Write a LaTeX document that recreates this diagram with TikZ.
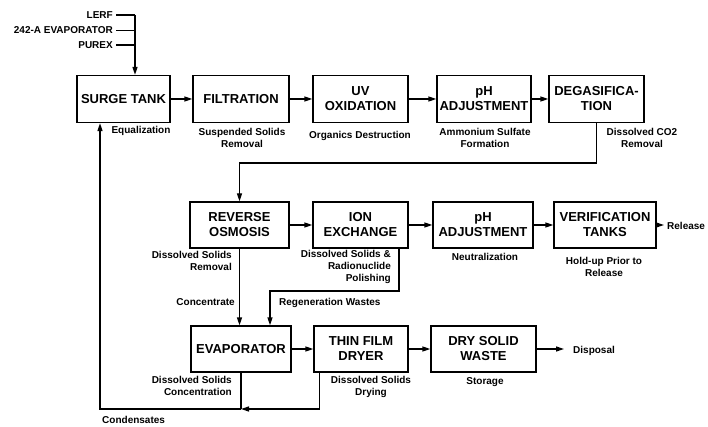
\documentclass[tikz,border=0pt]{standalone}
\usepackage{fontspec}
\setmainfont{Liberation Sans}
\usetikzlibrary{arrows.meta}
\begin{document}
\begin{tikzpicture}[x=1pt,y=-1pt,
 box/.style={draw,line width=1.3pt,align=center,font=\fontsize{13}{15}\selectfont\bfseries,inner sep=1pt},
 rowa/.style={minimum height=47pt},
 rowb/.style={minimum height=46pt},
 lbl/.style={font=\fontsize{10}{12}\selectfont\bfseries,inner sep=0pt,align=center},
 flow/.style={line width=1.3pt},
 arr/.style={flow,-{Triangle[length=8pt,width=5pt]}}]
\useasboundingbox[fill=white] (0,0) rectangle (708,427);

% row 1
\node[box,rowa,minimum width=93pt] (surge) at (123.5,99) {SURGE TANK};
\node[box,rowa,minimum width=96pt] (filt) at (241,99) {FILTRATION};
\node[box,rowa,minimum width=95pt] (uv) at (360.5,99) {UV\\OXIDATION};
\node[box,rowa,minimum width=94pt] (pha) at (484,99) {pH\\ADJUSTMENT};
\node[box,rowa,minimum width=95pt] (degas) at (596.5,99) {DEGASIFICA-\\TION};
% row 2
\node[box,rowb,minimum width=99pt] (ro) at (239.5,225) {REVERSE\\OSMOSIS};
\node[box,rowb,minimum width=95pt] (ix) at (360.5,225) {ION\\EXCHANGE};
\node[box,rowb,minimum width=100pt] (phb) at (483,225) {pH\\ADJUSTMENT};
\node[box,rowb,minimum width=102pt] (ver) at (605,225) {VERIFICATION\\TANKS};
% row 3
\node[box,rowb,minimum width=100pt] (evap) at (241,349) {EVAPORATOR};
\node[box,rowb,minimum width=94pt] (tfd) at (361,349) {THIN FILM\\DRYER};
\node[box,rowb,minimum width=105pt] (dsw) at (483.5,349) {DRY SOLID\\WASTE};

% inputs
\node[lbl,anchor=east] (lerf) at (113,15) {LERF};
\node[lbl,anchor=east] (evin) at (113,30.5) {242-A EVAPORATOR};
\node[lbl,anchor=east] (purex) at (113,45) {PUREX};
\coordinate (topj) at (135,15);
\draw[flow] ([xshift=3pt]lerf.east) -- (topj);
\draw[flow] ([xshift=3pt]evin.east) -- (evin.east -| topj);
\draw[flow] ([xshift=3pt]purex.east) -- (purex.east -| topj);
\draw[arr] (topj) -- (topj |- surge.north);

% row 1 flow
\draw[arr] (surge) -- (filt);
\draw[arr] (filt) -- (uv);
\draw[arr] (uv) -- (pha);
\draw[arr] (pha) -- (degas);
\draw[arr] (degas.south) -- ++(0,40) -| (ro.north);

% row 2 flow
\draw[arr] (ro) -- (ix);
\draw[arr] (ix) -- (phb);
\draw[arr] (phb) -- (ver);
\coordinate (relend) at (664,225);
\draw[arr] (ver) -- (relend);
\node[lbl,anchor=west] (rel) at (667,225.5) {Release};

\draw[arr] (ro.south) -- (ro.south |- evap.north);
\coordinate (regj) at (399,291);
\draw[arr] (ix.south -| regj) -- (regj) -| ([xshift=29pt]evap.north);

% row 3 flow
\draw[arr] (evap) -- (tfd);
\draw[arr] (tfd) -- (dsw);
\coordinate (dispend) at (564,349);
\draw[arr] (dsw) -- (dispend);
\node[lbl,anchor=west] (disp) at (573,350.5) {Disposal};

% condensates return
\coordinate (condj) at (241,409);
\coordinate (condl) at (100,409);
\draw[flow] (evap.south) -- (condj);
\draw[arr] ([xshift=6pt]tfd.south west) |- (condj);
\draw[arr] (condj) -- (condl) -- (condl |- surge.south);

% labels
\node[lbl] (l1) at (141,131) {Equalization};
\node[lbl] (l2) at (242,137.5) {Suspended Solids\\Removal};
\node[lbl] (l3) at (360,136) {Organics Destruction};
\node[lbl] (l4) at (485,138) {Ammonium Sulfate\\Formation};
\node[lbl] (l5) at (642,138) {Dissolved CO2\\Removal};
\node[lbl,align=right,anchor=east] (l6) at (232,261) {Dissolved Solids\\Removal};
\node[lbl,align=right,anchor=east] (l7) at (391,267) {Dissolved Solids \&\\Radionuclide\\Polishing};
\node[lbl] (l8) at (485,257) {Neutralization};
\node[lbl] (l9) at (604,266.5) {Hold-up Prior to\\Release};
\node[lbl,anchor=east] (l10) at (235,302.5) {Concentrate};
\node[lbl,anchor=west] (l11) at (279,302.5) {Regeneration Wastes};
\node[lbl,align=right,anchor=east] (l12) at (232,385.5) {Dissolved Solids\\Concentration};
\node[lbl] (l13) at (371,387) {Dissolved Solids\\Drying};
\node[lbl] (l14) at (485,382) {Storage};
\node[lbl,anchor=west] (l15) at (102,420) {Condensates};
\end{tikzpicture}
\end{document}
